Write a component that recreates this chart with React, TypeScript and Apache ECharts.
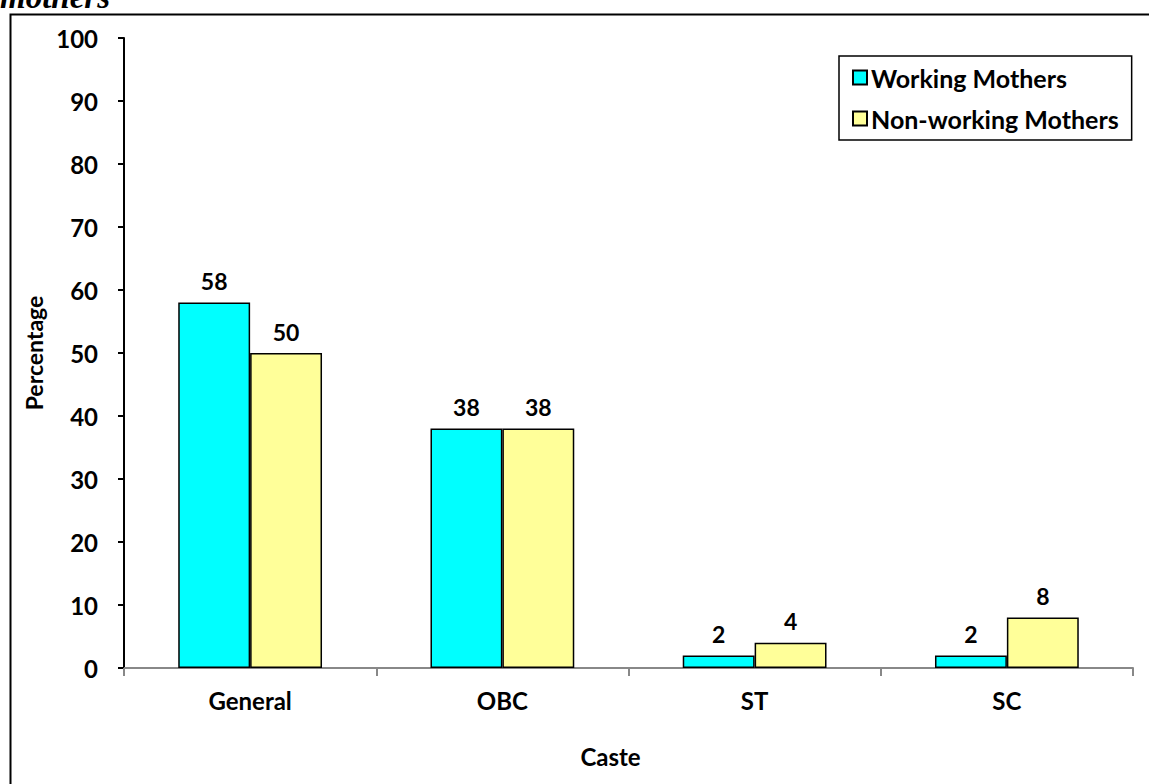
import React, { useEffect, useRef } from "react";
import * as echarts from "echarts";

const categories = ["General", "OBC", "ST", "SC"];
const workingMothers = [58, 38, 2, 2];
const nonWorkingMothers = [50, 38, 4, 8];
const seriesNames = ["Working Mothers", "Non-working Mothers"];
const yTicks = { min: 0, max: 100, interval: 10 };

const FONT = "Lato, 'Open Sans', sans-serif";

export default function App() {
  const ref = useRef<HTMLDivElement>(null);

  useEffect(() => {
    if (!ref.current) return;
    const chart = echarts.init(ref.current, null, { renderer: "svg" });

    const labelStyle = {
      show: true,
      position: "top" as const,
      distance: 10,
      color: "#000",
      fontFamily: FONT,
      fontWeight: "bold" as const,
      fontSize: 23,
    };

    chart.setOption({
      animation: false,
      backgroundColor: "#fff",
      textStyle: { fontFamily: FONT },
      grid: { left: 124, right: 16, top: 38, bottom: 116, containLabel: false },
      legend: {
        orient: "vertical",
        left: 839,
        top: 56,
        padding: [9, 13, 9, 13],
        itemGap: 16,
        itemWidth: 14,
        itemHeight: 14,
        borderColor: "#000",
        borderWidth: 1.5,
        backgroundColor: "#fff",
        icon: "rect",
        textStyle: {
          color: "#000",
          fontFamily: FONT,
          fontWeight: "bold",
          fontSize: 25,
          padding: [0, 0, 0, -1],
        },
        data: seriesNames,
      },
      xAxis: {
        type: "category",
        data: categories,
        name: "Caste",
        nameLocation: "middle",
        nameGap: 76,
        nameTextStyle: {
          color: "#000",
          fontFamily: FONT,
          fontWeight: "bold",
          fontSize: 24,
          padding: [0, 36, 0, 0],
        },
        axisLine: { show: true, lineStyle: { color: "#888", width: 2 } },
        axisTick: { show: true, alignWithLabel: false, length: 8, lineStyle: { color: "#888", width: 2 } },
        axisLabel: {
          color: "#000",
          fontFamily: FONT,
          fontWeight: "bold",
          fontSize: 24,
          margin: 20,
        },
        splitLine: { show: false },
      },
      yAxis: {
        type: "value",
        min: yTicks.min,
        max: yTicks.max,
        interval: yTicks.interval,
        name: "Percentage",
        nameLocation: "middle",
        nameGap: 75,
        nameRotate: 90,
        nameTextStyle: {
          color: "#000",
          fontFamily: FONT,
          fontWeight: "bold",
          fontSize: 23,
        },
        axisLine: { show: true, lineStyle: { color: "#000", width: 2 } },
        axisTick: { show: true, length: 6, lineStyle: { color: "#000", width: 2 } },
        axisLabel: {
          color: "#000",
          fontFamily: FONT,
          fontWeight: "bold",
          fontSize: 24,
          margin: 26,
        },
        splitLine: { show: false },
      },
      series: [
        {
          name: seriesNames[0],
          type: "bar",
          data: workingMothers,
          barGap: "0%",
          barCategoryGap: "43%",
          itemStyle: { color: "#00FFFF", borderColor: "#000", borderWidth: 1.5 },
          label: labelStyle,
        },
        {
          name: seriesNames[1],
          type: "bar",
          data: nonWorkingMothers,
          barGap: "0%",
          barCategoryGap: "43%",
          itemStyle: { color: "#FFFF99", borderColor: "#000", borderWidth: 1.5 },
          label: labelStyle,
        },
      ],
      graphic: [
        {
          type: "rect",
          left: 8,
          top: 12,
          shape: { x: 0, y: 0, width: 1160, height: 800 },
          style: { fill: "none", stroke: "#000", lineWidth: 2 },
          z: 100,
          silent: true,
        },
        {
          // caption line running off the top edge of the page
          type: "text",
          x: 0,
          y: -3,
          style: {
            text: "mothers",
            fill: "#000",
            font: "italic bold 33px 'Liberation Serif', 'DejaVu Serif', serif",
            verticalAlign: "middle",
            align: "left",
          },
          z: 100,
        },
      ],
    });

    return () => chart.dispose();
  }, []);

  return (
    <div
      ref={ref}
      style={{ position: "absolute", left: 0, top: 0, width: 1149, height: 784, overflow: "hidden" }}
    />
  );
}
